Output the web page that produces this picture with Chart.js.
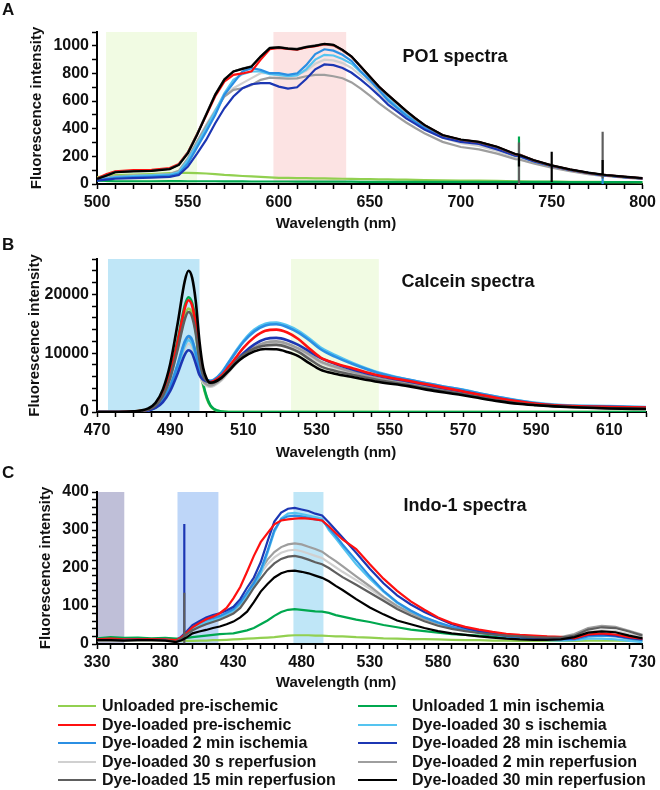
<!DOCTYPE html>
<html><head><meta charset="utf-8">
<script src="https://cdn.jsdelivr.net/npm/chart.js@4.4.1/dist/chart.umd.min.js"></script>
<style>
html,body{margin:0;padding:0;background:#fff;}
#wrap{position:relative;width:660px;height:790px;overflow:hidden;font-family:"Liberation Sans",Arial,Helvetica,sans-serif;color:#111;}
canvas{position:absolute;left:0;}
.t{position:absolute;font-weight:bold;white-space:nowrap;line-height:1;}
.sw{position:absolute;height:2px;}
</style></head>
<body><div id="wrap">
<canvas id="cA" width="660" height="214" style="top:0px"></canvas>
<canvas id="cB" width="660" height="222" style="top:220px"></canvas>
<canvas id="cC" width="660" height="224" style="top:450px"></canvas>
</div>
<script>
// ---------- series names (legend order) ----------
const seriesNames = ['Unloaded pre-ischemic','Dye-loaded pre-ischemic','Dye-loaded 2 min ischemia','Dye-loaded 30 s reperfusion','Dye-loaded 15 min reperfusion',
  'Unloaded 1 min ischemia','Dye-loaded 30 s ischemia','Dye-loaded 28 min ischemia','Dye-loaded 2 min reperfusion','Dye-loaded 30 min reperfusion'];

// ---------- Panel A: PO1 spectra ----------
const wavelengthA = [500,505,510,520,530,540,545,550,555,560, 565,570,575,580,585,590,595,600,605,610, 615,620,625,630,635,640,645,650,655,660,
  665,670,675,680,690,700,710,720,730,732, 732,732,732,740,750,750,750,750,760,770, 778,778,778,778,780,790,800];
const poUnloadedPre = [50,58,64,68,72,78,80,80,78,76, 72,66,62,58,55,52,48,45,44,43, 42,41,40,39,38,37,36,35,34,33, 32,31,30,29,27,25,24,22,20,20, 20,20,20,18,17,17,17,17,16,15, 15,15,15,15,14,13,12];
const poDyePre = [40,70,92,100,102,115,145,230,360,495, 635,740,790,800,815,900,975,985,978,972, 988,998,1010,1003,968,920,848,776,703,643, 585,527,474,426,353,320,303,268,215,215, 215,215,215,172,133,133,133,133,104,81, 67,67,67,67,64,52,41];
const poDye2minIsch = [26,36,44,50,54,60,75,150,265,379, 500,645,730,814,838,826,802,802,790,800, 860,940,975,965,935,890,815,750,680,605, 550,495,450,410,345,310,295,255,205,203, 203,203,203,165,130,130,130,130,102,80, 64,64,0,64,63,50,40];
const poDye30sRep = [30,45,55,60,64,72,95,186,310,428, 536,633,693,730,766,802,802,785,785,790, 820,870,900,895,875,840,785,730,660,595, 540,490,445,400,335,295,275,240,195,193, 193,193,193,158,125,125,125,125,98,77, 61,61,61,61,60,48,38];
const poDye15minRep = [38,62,86,94,96,110,140,228,360,505, 650,758,815,835,852,925,985,990,982,978, 992,1003,1012,1005,968,920,848,775,702,642, 585,527,474,426,353,320,303,268,215,215, 300,0,215,172,133,133,133,133,104,81, 67,379,40,67,64,52,41];
const poUnloaded1minIsch = [25,22,20,20,20,21,21,20,20,20, 20,19,19,19,18,18,18,18,18,17, 17,17,17,17,17,17,16,16,16,16, 16,16,15,15,15,15,15,15,15,15, 343,15,15,15,15,15,15,15,14,14, 14,14,14,14,14,14,14];
const poDye30sIsch = [28,40,50,58,62,68,85,175,290,403, 527,657,754,795,814,814,795,790,780,785, 830,900,935,930,905,870,810,755,690,620, 560,505,455,412,345,310,295,255,205,203, 203,203,203,165,130,130,130,130,102,80, 64,64,64,64,63,50,40];
const poDye28minIsch = [24,32,38,42,46,52,65,126,220,319, 440,548,633,693,722,730,730,705,690,700, 760,830,865,860,840,805,755,700,640,575, 525,475,435,395,335,305,290,250,205,203, 203,203,203,165,130,130,130,130,102,80, 63,63,63,63,62,50,40];
const poDye2minRep = [30,45,55,60,64,72,95,186,305,420, 525,633,681,693,717,754,770,766,762,765, 780,790,790,780,765,735,690,640,585,536, 490,445,405,368,305,268,250,220,180,178, 178,178,178,148,118,118,118,118,92,72, 58,58,58,58,58,46,36];
const poDye30minRep = [36,60,85,92,95,108,138,224,355,500, 645,754,814,833,850,922,983,988,980,975, 990,1000,1015,1007,971,923,850,778,705,645, 587,529,476,428,355,322,305,270,217,212, 212,126,212,174,135,234,15,135,106,82, 68,174,68,68,65,53,42];
const bandsA = [[505,555],[597,637]];

// ---------- Panel B: Calcein spectra ----------
const wavelengthB = [470,476,480,482,484,486,488,490,492,494, 495,496,497,498,499,500,501,502,504,506, 508,510,513,516,519,522,525,528,531,535, 540,547,555,560,565,570,575,580,585,590, 595,600,610,620];
const caUnloadedPre = [0,0,70,176,440,1144,2816,5984,10900,16370, 17600,16700,13700,7500,4500,2300,1000,450,70,0, 0,0,0,0,0,0,0,0,0,0, 0,0,0,0,0,0,0,0,0,0, 0,0,0,0];
const caDyePre = [0,0,76,190,475,1235,3040,6460,11780,17670, 19000,18050,14800,9800,6600,5400,5100,5300,6200,7700, 9300,10900,12700,13800,14000,13500,12400,10800,9300,8300, 7400,6200,5300,4700,4100,3500,2900,2300,1800,1400, 1150,1000,850,750];
const caDye2minIsch = [0,0,52,129,322,839,2064,4390,8000,12000, 12900,12250,10000,7400,5900,5400,5300,5500,6600,8400, 10200,11900,13700,14700,14900,14400,13500,12200,10700,9400, 8100,6600,5500,4900,4300,3750,3100,2500,1950,1500, 1200,1050,950,800];
const caDye30sRep = [0,0,46,116,290,754,1856,3944,7190,10790, 11600,11000,9000,6400,4900,4400,4300,4500,5400,6800, 8200,9400,10700,11500,11700,11300,10500,9500,8400,7500, 6600,5600,4800,4200,3700,3200,2650,2050,1600,1250, 1000,850,700,600];
const caDye15minRep = [0,0,68,170,425,1105,2720,5780,10540,15800, 17000,16150,13300,8900,6200,5300,4900,5000,5900,7200, 8600,9700,10800,11300,11400,11000,10200,9000,7800,7000, 6300,5400,4600,4000,3500,3000,2450,1900,1500,1200, 1000,850,650,550];
const caUnloaded1minIsch = [0,0,78,195,490,1270,3120,6630,12090,18135, 19500,18500,15200,8000,4800,2500,1100,500,80,0, 0,0,0,0,0,0,0,0,0,0, 0,0,0,0,0,0,0,0,0,0, 0,0,0,0];
const caDye30sIsch = [0,0,49,122,305,793,1952,4150,7560,11350, 12200,11600,9500,7200,5800,5400,5300,5500,6700,8500, 10400,12100,14000,15000,15200,14700,13800,12500,11000,9700, 8300,6700,5500,4900,4300,3800,3100,2500,2000,1550, 1250,1100,1000,850];
const caDye28minIsch = [0,0,42,105,262,683,1680,3570,6510,9765, 10500,9975,8200,6300,5500,5200,5100,5200,6000,7300, 8700,10000,11500,12400,12600,12200,11400,10300,9200,8200, 7200,6100,5200,4600,4000,3450,2850,2250,1750,1350, 1100,950,850,750];
const caDye2minRep = [0,0,51,127,318,826,2030,4320,7870,11800, 12700,12050,9900,7000,5300,4700,4500,4700,5600,7000, 8400,9700,11000,11800,12000,11600,10800,9800,8600,7700, 6800,5700,4900,4300,3800,3300,2700,2100,1650,1300, 1050,900,750,650];
const caDye30minRep = [0,0,100,240,600,1560,3840,8160,14900,22300, 24000,22800,18700,12000,7500,5600,5000,5100,5800,7000, 8300,9300,10300,10700,10650,10200,9500,8300,7200,6500, 5900,5100,4400,3800,3300,2850,2300,1800,1400,1150, 950,800,600,500];
const bandsB = [[473,498],[523,547]];

// ---------- Panel C: Indo-1 spectra ----------
const wavelengthC = [330,340,350,360,370,380,388,392,394,394, 394,394,396,400,405,410,415,420,425,430, 435,440,445,450,455,460,465,470,475,480, 485,490,495,500,505,510,520,530,540,550, 560,570,580,590,600,610,620,630,640,650, 660,670,680,690,700,710,720,730];
const inUnloadedPre = [10,10,10,10,10,10,9,9,9,9, 9,9,8,8,9,9,10,10,11,12, 13,14,15,16,17,18,20,22,23,23, 23,22,22,21,20,20,18,17,15,14, 13,13,12,11,10,10,9,9,8,8, 8,8,8,9,9,9,8,8];
const inDyePre = [12,14,12,12,13,12,10,18,24,24, 24,24,30,44,55,65,72,81,95,120, 150,190,232,268,292,315,325,328,330,331, 330,328,325,310,292,275,250,210,172,140, 112,90,70,55,45,38,32,27,24,22, 20,19,15,25,28,25,18,14];
const inDye2minIsch = [11,12,11,11,12,11,8,18,25,25, 25,25,30,46,56,63,68,74,82,92, 110,135,160,195,245,300,328,336,338,336, 332,328,325,305,285,262,220,178,140,110, 88,70,57,45,37,30,25,20,17,15, 14,12,12,20,22,20,14,10];
const inDye30sRep = [10,11,10,11,10,11,7,15,21,21, 21,21,27,40,50,55,60,66,74,84, 100,128,158,185,210,228,240,246,248,244, 238,232,226,214,202,190,168,145,120,98, 80,64,52,42,36,30,26,22,20,18, 17,16,20,32,36,34,26,18];
const inDye15minRep = [10,11,10,10,11,10,6,15,20,135, 2,20,26,36,45,52,58,64,72,80, 95,120,148,172,195,212,224,230,232,228, 222,215,210,200,188,176,156,135,114,92, 75,60,48,40,34,29,25,22,20,18, 17,17,22,38,44,42,33,22];
const inUnloaded1minIsch = [15,18,16,17,15,16,14,15,15,15, 15,15,16,18,20,22,24,26,27,28, 32,36,42,52,62,74,84,90,92,90, 88,86,85,82,76,72,64,58,50,44, 38,34,30,26,24,22,20,18,17,17, 16,16,17,22,24,23,20,16];
const inDye30sIsch = [11,11,12,11,11,12,8,18,24,24, 24,24,29,42,50,57,62,70,78,88, 105,127,150,185,240,295,330,343,345,342, 338,334,330,300,278,255,210,172,138,108, 86,70,56,44,36,30,25,20,15,12, 10,9,10,14,14,12,8,5];
const inDye28minIsch = [12,13,11,12,12,11,8,20,28,316, 28,28,34,50,60,70,76,81,88,98, 118,148,175,215,270,322,346,356,358,354, 350,343,338,320,300,280,240,198,160,128, 104,84,68,52,42,34,28,22,20,17, 15,14,15,24,26,22,16,12];
const inDye2minRep = [11,12,11,11,12,11,8,16,22,22, 22,22,28,38,48,56,62,70,78,88, 105,135,165,195,222,242,255,262,265,262, 256,250,243,230,218,205,178,152,124,100, 82,66,54,44,38,32,28,25,22,20, 19,18,26,42,48,45,35,24];
const inDye30minRep = [10,10,9,10,10,9,5,10,14,14, 14,14,18,28,33,37,42,46,52,59, 70,85,110,138,158,175,186,192,193,190, 186,180,174,165,153,142,118,96,78,62, 52,42,34,28,24,20,17,14,12,11, 11,12,18,30,33,31,22,15];
const bandsC = [[330,350],[389,419],[474,496]];

// ---------- styles ----------
const FONT = "'Liberation Sans', Arial, Helvetica, sans-serif";
const seriesColors = ['#92d050','#ff1010','#2b8fe3','#d0d0d0','#5e5e5e','#00a84f','#55c4f0','#1c36b3','#9e9e9e','#000000'];
const zOrder = [9,4,1,7,2,6,8,3,5,0]; // first = drawn on top
Chart.defaults.font.family = FONT;

const bandPlugin = {
  id: 'bands',
  beforeDraw(chart, args, opts) {
    const {ctx, scales: {x, y}} = chart;
    (opts.ranges || []).forEach((r, i) => {
      const x1 = x.getPixelForValue(r[0]), x2 = x.getPixelForValue(r[1]);
      const yt = y.getPixelForValue(y.max), yb = y.getPixelForValue(0);
      ctx.save(); ctx.fillStyle = opts.colors[i]; ctx.fillRect(x1, yt, x2 - x1, yb - yt); ctx.restore();
    });
  }
};

function tickFont() { return {family: FONT, size: 16, weight: 'bold'}; }
function gridOpts() { return {display: true, drawOnChartArea: false, drawTicks: true, tickLength: 5, tickWidth: 1.5, tickColor: '#000'}; }

function makeChart(id, wl, series, xmin, xmax, xstep, xlab, ymax, ystep, ylab, bands, bandColors, padTop, lw, smooth, yTitlePad) {
  const datasets = zOrder.map(k => ({
    label: seriesNames[k],
    data: wl.map((w, i) => ({x: w, y: series[k][i]})),
    borderColor: seriesColors[k], backgroundColor: seriesColors[k],
    borderWidth: lw, pointRadius: 0, fill: false, tension: 0,
    cubicInterpolationMode: smooth ? 'monotone' : 'default'
  }));
  return new Chart(document.getElementById(id), {
    type: 'line',
    data: {datasets},
    plugins: [bandPlugin],
    options: {
      responsive: false, animation: false, devicePixelRatio: 1,
      layout: {padding: {left: 0, right: 14, top: padTop, bottom: 0}},
      plugins: {legend: {display: false}, tooltip: {enabled: false}, bands: {ranges: bands, colors: bandColors}},
      scales: {
        x: {type: 'linear', min: xmin, max: xmax,
          ticks: {stepSize: xstep, autoSkip: false, maxRotation: 0, minRotation: 0, padding: 4, color: '#111', font: tickFont(),
            callback: v => (Math.round(v - xmin) % xlab === 0 ? String(v) : '')},
          grid: gridOpts(), border: {display: true, color: '#000', width: 2},
          afterFit: s => { s.height = 30; }},
        y: {type: 'linear', min: 0, max: ymax,
          ticks: {stepSize: ystep, autoSkip: false, padding: 3, color: '#111', font: tickFont(),
            callback: v => (Math.round(v) % ylab === 0 ? String(v) : '')},
          grid: gridOpts(), border: {display: true, color: '#000', width: 2},
          title: {display: true, text: 'Fluorescence intensity', color: '#111', font: {family: FONT, size: 15, weight: 'bold'}, padding: {top: yTitlePad, bottom: 0}},
          afterFit: s => { s.width = 97; }}
      }
    }
  });
}

makeChart('cA', wavelengthA, [poUnloadedPre, poDyePre, poDye2minIsch, poDye30sRep, poDye15minRep, poUnloaded1minIsch, poDye30sIsch, poDye28minIsch, poDye2minRep, poDye30minRep],
  500, 800, 10, 50, 1100, 100, 200, bandsA, ['#f1fbe3', '#fce3e3'], 32, 2.2, false, 28);
makeChart('cB', wavelengthB, [caUnloadedPre, caDyePre, caDye2minIsch, caDye30sRep, caDye15minRep, caUnloaded1minIsch, caDye30sIsch, caDye28minIsch, caDye2minRep, caDye30minRep],
  470, 620, 5, 20, 26000, 2000, 10000, bandsB, ['#bfe6f7', '#f1fbe3'], 39, 2.6, true, 26);
makeChart('cC', wavelengthC, [inUnloadedPre, inDyePre, inDye2minIsch, inDye30sRep, inDye15minRep, inUnloaded1minIsch, inDye30sIsch, inDye28minIsch, inDye2minRep, inDye30minRep],
  330, 730, 10, 50, 400, 20, 100, bandsC, ['#bfbfd8', '#bed6f8', '#bfe6f7'], 42, 2.2, false, 37);

// ---------- text ----------
const wrap = document.getElementById('wrap');
function addText(txt, x, cy, size, align) {
  const d = document.createElement('div');
  d.className = 't'; d.textContent = txt; d.style.fontSize = size + 'px';
  d.style.top = (cy - 0.49 * size) + 'px';
  if (align === 'center') { d.style.left = (x - 200) + 'px'; d.style.width = '400px'; d.style.textAlign = 'center'; }
  else { d.style.left = x + 'px'; }
  wrap.appendChild(d);
}
addText('A', 2, 9, 17, 'left');
addText('B', 2, 244, 17, 'left');
addText('C', 2, 472, 17, 'left');
addText('PO1 spectra', 455, 56, 18, 'center');
addText('Calcein spectra', 468, 281, 18, 'center');
addText('Indo-1 spectra', 465, 505, 18, 'center');
addText('Wavelength (nm)', 336, 222, 15, 'center');
addText('Wavelength (nm)', 336, 451, 15, 'center');
addText('Wavelength (nm)', 336, 681, 15, 'center');

// ---------- legend ----------
const legendRows = [706, 724.5, 743, 761.5, 780];
function addSwatch(x1, x2, cy, color) {
  const d = document.createElement('div');
  d.className = 'sw'; d.style.left = x1 + 'px'; d.style.width = (x2 - x1) + 'px'; d.style.top = (cy - 1) + 'px'; d.style.background = color;
  wrap.appendChild(d);
}
for (let i = 0; i < 5; i++) {
  addSwatch(58, 96, legendRows[i], seriesColors[i]);
  addText(seriesNames[i], 102, legendRows[i], 16, 'left');
  addSwatch(358, 397, legendRows[i], seriesColors[i + 5]);
  addText(seriesNames[i + 5], 412, legendRows[i], 16, 'left');
}
</script>
</body></html>
